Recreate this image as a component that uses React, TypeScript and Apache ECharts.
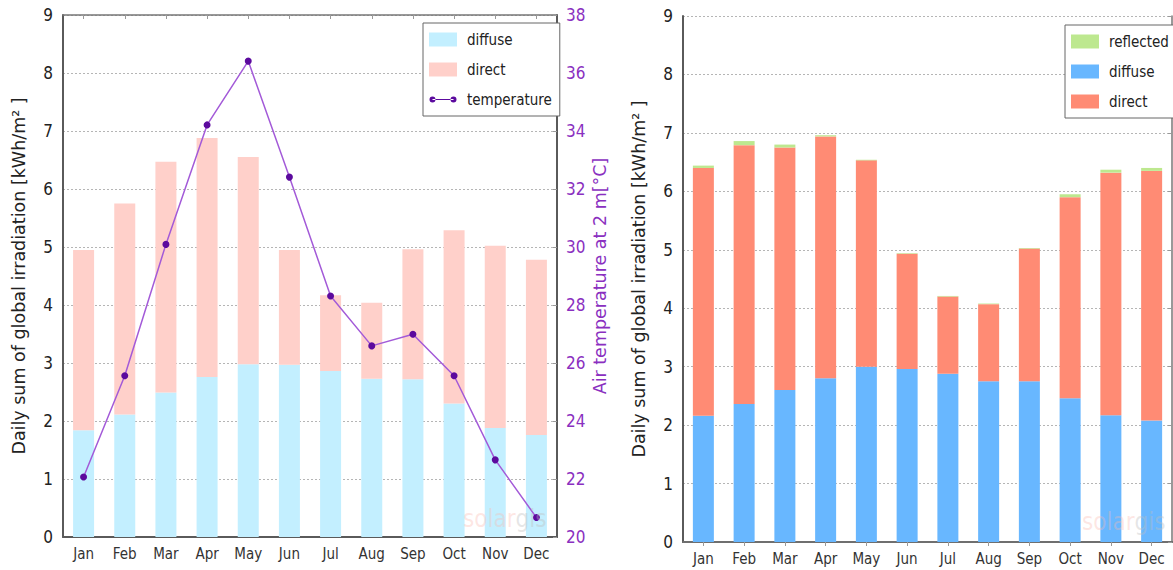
import React, { useEffect, useRef } from "react";
import * as echarts from "echarts";

const months = ["Jan", "Feb", "Mar", "Apr", "May", "Jun", "Jul", "Aug", "Sep", "Oct", "Nov", "Dec"];
const irradTicks = [0, 9];
const tempTicks = [20, 38];

const leftDiffuse = [1.84, 2.11, 2.49, 2.76, 2.98, 2.97, 2.86, 2.73, 2.72, 2.3, 1.88, 1.76];
const leftDirect = [3.11, 3.64, 3.98, 4.12, 3.57, 1.98, 1.31, 1.31, 2.24, 2.99, 3.14, 3.02];
const temperature = [22.07, 25.56, 30.09, 34.21, 36.41, 32.41, 28.31, 26.59, 26.99, 25.56, 22.66, 20.67];

const rightDiffuse = [2.16, 2.36, 2.6, 2.8, 3.0, 2.96, 2.88, 2.75, 2.75, 2.46, 2.17, 2.08];
const rightDirect = [4.24, 4.43, 4.15, 4.14, 3.53, 1.97, 1.32, 1.32, 2.27, 3.44, 4.15, 4.27];
const rightReflected = [0.04, 0.07, 0.05, 0.02, 0.01, 0.01, 0.01, 0.01, 0.01, 0.05, 0.05, 0.05];

const C_LDIFF = "#c3efff";
const C_LDIR = "#ffd0ca";
const C_TLINE = "#a35ad8";
const C_TDOT = "#5c0a9e";
const C_TAXIS = "#8a2fc0";
const C_RDIFF = "#68b7ff";
const C_RDIR = "#ff8b74";
const C_RREF = "#bde88f";

const COND = "'DejaVu Sans Condensed', 'DejaVu Sans', sans-serif";
const SANS = "'DejaVu Sans', sans-serif";
const AXIS_COLOR = "#5a5a5a";

const tempIcon =
  "path://M0,0h0.01v0.01h-0.01z M28,14h-0.01v-0.01h0.01z M0.5,7a3,3 0 1,0 6,0a3,3 0 1,0 -6,0z M3.5,6.4h21v1.2h-21z M21.5,7a3,3 0 1,0 6,0a3,3 0 1,0 -6,0z";

const watermark = (left: number, top: number) => ({
  type: "text",
  left,
  top,
  z: 100,
  silent: true,
  style: {
    text: "{a|solar}{b|gis}",
    rich: {
      a: { fontFamily: COND, fontSize: 24, fill: "rgba(250,185,175,0.35)" },
      b: { fontFamily: COND, fontSize: 24, fill: "rgba(190,190,190,0.4)" },
    },
  },
});

export default function App() {
  const ref = useRef<HTMLDivElement>(null);
  useEffect(() => {
    if (!ref.current) return;
    const chart = echarts.init(ref.current, null, { renderer: "svg" });

    const splitLine = { show: true, lineStyle: { color: "#b5b5b5", type: [2, 2] as any, width: 1 } };
    const catAxis = (gridIndex: number) => ({
      type: "category",
      gridIndex,
      data: months,
      axisLine: { show: true, lineStyle: { color: AXIS_COLOR, width: 2 } },
      axisTick: { show: true, inside: true, alignWithLabel: true, length: 4, lineStyle: { color: "#888" } },
      axisLabel: { color: "#333", fontFamily: COND, fontSize: 15, margin: 9 },
    });
    const topAxis = (gridIndex: number) => ({
      type: "category",
      gridIndex,
      position: "top",
      data: months,
      axisLine: { show: true, lineStyle: { color: "#777", width: 1.5 } },
      axisTick: { show: true, inside: true, alignWithLabel: true, length: 4, lineStyle: { color: "#999" } },
      axisLabel: { show: false },
    });
    const irrAxis = (gridIndex: number) => ({
      type: "value",
      gridIndex,
      min: irradTicks[0],
      max: irradTicks[1],
      interval: 1,
      name: "Daily sum of global irradiation [kWh/m\u00b2 ]",
      nameLocation: "middle",
      nameRotate: 90,
      nameGap: 35,
      nameTextStyle: { fontFamily: SANS, fontSize: 17.5, color: "#222" },
      axisLine: { show: true, lineStyle: { color: AXIS_COLOR, width: 2 } },
      axisTick: { show: false },
      axisLabel: { color: "#222", fontFamily: COND, fontSize: 17, margin: 10 },
      splitLine,
    });

    const option: any = {
      animation: false,
      backgroundColor: "#ffffff",
      grid: [
        { left: 63, top: 15, width: 494, height: 522 },
        { left: 683, top: 16, width: 489, height: 526 },
      ],
      xAxis: [catAxis(0), topAxis(0), catAxis(1), topAxis(1)],
      yAxis: [
        irrAxis(0),
        {
          type: "value",
          gridIndex: 0,
          position: "right",
          min: tempTicks[0],
          max: tempTicks[1],
          interval: 2,
          name: "Air temperature at 2 m[\u00b0C]",
          nameLocation: "middle",
          nameRotate: 90,
          nameGap: 34,
          nameTextStyle: { fontFamily: SANS, fontSize: 17.5, color: C_TAXIS },
          axisLine: { show: true, lineStyle: { color: AXIS_COLOR, width: 2 } },
          axisTick: { show: true, inside: true, length: 4, lineStyle: { color: "#999" } },
          axisLabel: { color: C_TAXIS, fontFamily: COND, fontSize: 17, margin: 9 },
          splitLine: { show: false },
        },
        irrAxis(1),
        {
          type: "value",
          gridIndex: 1,
          position: "right",
          min: irradTicks[0],
          max: irradTicks[1],
          interval: 1,
          axisLine: { show: true, lineStyle: { color: "#777", width: 1.5 } },
          axisTick: { show: true, inside: true, length: 4, lineStyle: { color: "#999" } },
          axisLabel: { show: false },
          splitLine: { show: false },
        },
      ],
      legend: [
        {
          orient: "vertical",
          left: 423,
          top: 23,
          itemWidth: 28,
          itemHeight: 14,
          itemGap: 15,
          padding: [9, 8, 9, 6],
          borderColor: "#666",
          borderWidth: 1,
          backgroundColor: "#fff",
          textStyle: { fontFamily: COND, fontSize: 15, color: "#222", padding: [0, 0, 0, 5] },
          data: [
            { name: "diffuse", icon: "rect", itemStyle: { color: C_LDIFF } },
            { name: "direct", icon: "rect", itemStyle: { color: C_LDIR } },
            { name: "temperature", icon: tempIcon, itemStyle: { color: C_TDOT } },
          ],
        },
        {
          orient: "vertical",
          left: 1065,
          top: 25,
          itemWidth: 28,
          itemHeight: 14,
          itemGap: 15,
          padding: [9, 8, 9, 6],
          borderColor: "#666",
          borderWidth: 1,
          backgroundColor: "#fff",
          textStyle: { fontFamily: COND, fontSize: 15, color: "#222", padding: [0, 0, 0, 5] },
          data: [
            { name: "reflected", icon: "rect", itemStyle: { color: C_RREF } },
            { name: "diffuse", icon: "rect", itemStyle: { color: C_RDIFF } },
            { name: "direct", icon: "rect", itemStyle: { color: C_RDIR } },
          ],
        },
      ],
      graphic: [watermark(463, 507), watermark(1082, 510)],
      series: [
        {
          name: "diffuse",
          type: "bar",
          xAxisIndex: 0,
          yAxisIndex: 0,
          stack: "L",
          barWidth: 21,
          itemStyle: { color: C_LDIFF },
          data: leftDiffuse,
        },
        {
          name: "direct",
          type: "bar",
          xAxisIndex: 0,
          yAxisIndex: 0,
          stack: "L",
          barWidth: 21,
          itemStyle: { color: C_LDIR },
          data: leftDirect,
        },
        {
          name: "temperature",
          type: "line",
          xAxisIndex: 0,
          yAxisIndex: 1,
          symbol: "circle",
          symbolSize: 7,
          lineStyle: { color: C_TLINE, width: 1.5 },
          itemStyle: { color: C_TDOT },
          data: temperature,
          z: 5,
        },
        {
          name: "diffuse",
          type: "bar",
          xAxisIndex: 2,
          yAxisIndex: 2,
          stack: "R",
          barWidth: 21,
          itemStyle: { color: C_RDIFF },
          data: rightDiffuse,
        },
        {
          name: "direct",
          type: "bar",
          xAxisIndex: 2,
          yAxisIndex: 2,
          stack: "R",
          barWidth: 21,
          itemStyle: { color: C_RDIR },
          data: rightDirect,
        },
        {
          name: "reflected",
          type: "bar",
          xAxisIndex: 2,
          yAxisIndex: 2,
          stack: "R",
          barWidth: 21,
          itemStyle: { color: C_RREF },
          data: rightReflected,
        },
      ],
    };
    chart.setOption(option);
    return () => chart.dispose();
  }, []);
  return (
    <div
      ref={ref}
      style={{ position: "fixed", left: 0, top: 0, width: 1173, height: 570, background: "#fff" }}
    />
  );
}
